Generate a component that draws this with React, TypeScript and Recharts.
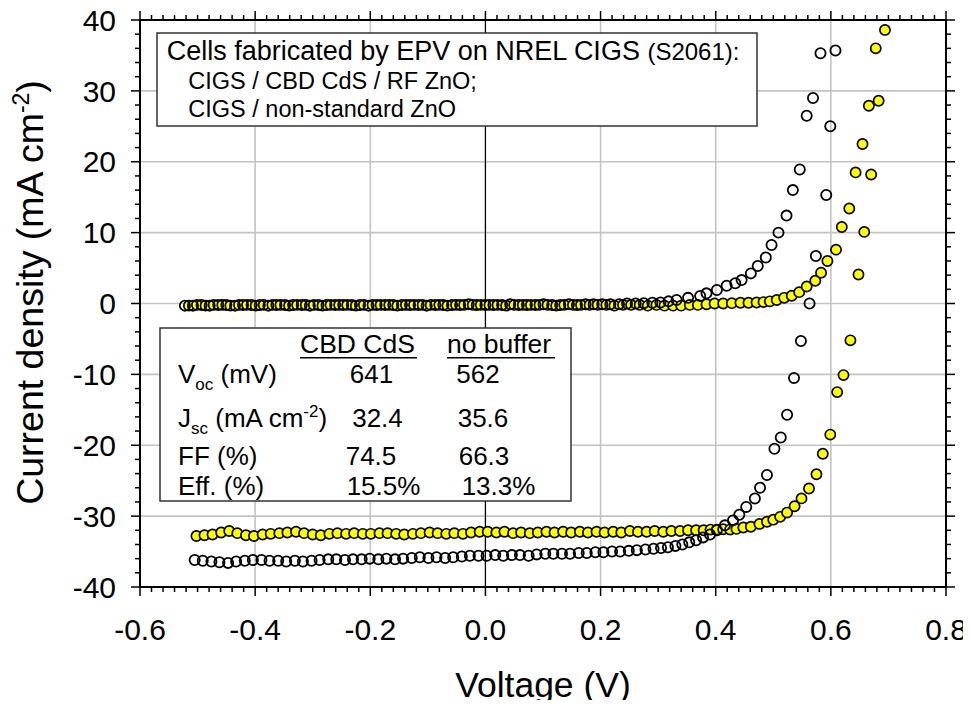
import React from 'react';
import { ScatterChart, Scatter, XAxis, YAxis, CartesianGrid, ReferenceLine } from 'recharts';

// sweep voltages (V) and current densities (mA/cm2)
const cdsDarkV = [
  -0.515, -0.501, -0.486, -0.472, -0.457, -0.443, -0.428, -0.414, -0.399, -0.385,
  -0.37, -0.356, -0.341, -0.327, -0.312, -0.298, -0.283, -0.269, -0.254, -0.24,
  -0.225, -0.211, -0.196, -0.182, -0.167, -0.153, -0.138, -0.124, -0.109, -0.095,
  -0.08, -0.066, -0.051, -0.037, -0.022, -0.008, 0.007, 0.021, 0.036, 0.05,
  0.065, 0.079, 0.094, 0.108, 0.123, 0.137, 0.152, 0.166, 0.181, 0.195,
  0.21, 0.224, 0.239, 0.253, 0.268, 0.282, 0.297, 0.311, 0.326, 0.34,
  0.355, 0.369, 0.384, 0.398, 0.413, 0.428, 0.443, 0.457, 0.471, 0.483,
  0.494, 0.506, 0.519, 0.532, 0.545, 0.558, 0.573, 0.583, 0.594, 0.609,
  0.619, 0.632, 0.643, 0.655, 0.666, 0.678, 0.694,
];
const cdsDarkJ = [
  -0.3, -0.2, -0.3, -0.2, -0.2, -0.3, -0.2, -0.2, -0.3, -0.2,
  -0.2, -0.2, -0.3, -0.2, -0.2, -0.2, -0.3, -0.2, -0.2, -0.2,
  -0.3, -0.2, -0.2, -0.2, -0.2, -0.3, -0.2, -0.2, -0.2, -0.2,
  -0.2, -0.3, -0.2, -0.2, -0.2, -0.2, -0.2, -0.2, -0.3, -0.2,
  -0.2, -0.2, -0.2, -0.2, -0.3, -0.2, -0.2, -0.2, -0.2, -0.2,
  -0.2, -0.3, -0.2, -0.2, -0.2, -0.3, -0.2, -0.3, -0.3, -0.3,
  -0.2, -0.2, -0.1, 0.0, 0.0, 0.05, 0.1, 0.1, 0.15, 0.2,
  0.3, 0.5, 0.8, 1.1, 1.6, 2.4, 3.2, 4.35, 6.0, 7.6,
  10.8, 13.4, 18.5, 22.5, 27.9, 36.0, 38.6,
];

const cdsLightV = [
  -0.502, -0.488, -0.474, -0.459, -0.445, -0.431, -0.416, -0.402, -0.387, -0.373,
  -0.358, -0.344, -0.329, -0.315, -0.3, -0.286, -0.271, -0.257, -0.242, -0.228,
  -0.213, -0.199, -0.184, -0.17, -0.155, -0.141, -0.126, -0.112, -0.097, -0.083,
  -0.068, -0.054, -0.039, -0.025, -0.01, 0.004, 0.019, 0.033, 0.048, 0.062,
  0.077, 0.091, 0.106, 0.12, 0.135, 0.149, 0.164, 0.178, 0.193, 0.207,
  0.222, 0.236, 0.251, 0.265, 0.28, 0.294, 0.309, 0.323, 0.338, 0.352,
  0.366, 0.379, 0.391, 0.402, 0.413, 0.425, 0.436, 0.448, 0.461, 0.476,
  0.489, 0.5, 0.512, 0.524, 0.537, 0.549, 0.562, 0.575, 0.586, 0.599,
  0.611, 0.622, 0.634, 0.648, 0.658, 0.67, 0.683,
];
const cdsLightJ = [
  -32.8, -32.7, -32.6, -32.3, -32.1, -32.4, -32.7, -32.8, -32.6, -32.5,
  -32.4, -32.3, -32.2, -32.4, -32.6, -32.7, -32.5, -32.4, -32.5, -32.4,
  -32.5, -32.5, -32.4, -32.4, -32.5, -32.6, -32.5, -32.4, -32.3, -32.4,
  -32.5, -32.4, -32.5, -32.3, -32.2, -32.2, -32.3, -32.2, -32.4, -32.3,
  -32.4, -32.3, -32.2, -32.3, -32.2, -32.3, -32.2, -32.3, -32.2, -32.3,
  -32.2, -32.3, -32.1, -32.2, -32.2, -32.1, -32.2, -32.1, -32.1, -32.0,
  -32.0, -32.0, -31.9, -31.9, -31.85, -31.9, -31.8, -31.6, -31.5, -31.1,
  -30.8, -30.5, -30.1, -29.5, -28.6, -27.5, -26.1, -24.1, -21.2, -18.5,
  -12.5, -10.1, -5.2, 4.1, 10.1, 18.2, 28.6,
];

const bareDarkV = [
  -0.522, -0.508, -0.493, -0.479, -0.464, -0.45, -0.435, -0.421, -0.406, -0.392,
  -0.377, -0.363, -0.348, -0.334, -0.319, -0.305, -0.29, -0.276, -0.261, -0.247,
  -0.232, -0.218, -0.203, -0.189, -0.174, -0.16, -0.145, -0.131, -0.116, -0.102,
  -0.087, -0.073, -0.058, -0.044, -0.029, -0.015, 0.0, 0.014, 0.029, 0.043,
  0.058, 0.072, 0.087, 0.101, 0.116, 0.13, 0.145, 0.159, 0.174, 0.188,
  0.203, 0.217, 0.232, 0.246, 0.261, 0.275, 0.29, 0.304, 0.318, 0.332,
  0.352, 0.373, 0.384, 0.402, 0.419, 0.434, 0.445, 0.461, 0.473, 0.487,
  0.497, 0.509, 0.523, 0.534, 0.546, 0.558, 0.569, 0.582,
];
const bareDarkJ = [
  -0.3, -0.3, -0.2, -0.3, -0.2, -0.2, -0.3, -0.2, -0.2, -0.2,
  -0.3, -0.2, -0.2, -0.2, -0.2, -0.3, -0.2, -0.2, -0.2, -0.2,
  -0.2, -0.2, -0.3, -0.2, -0.2, -0.2, -0.2, -0.2, -0.2, -0.3,
  -0.2, -0.2, -0.2, -0.2, -0.1, -0.2, -0.2, -0.2, -0.2, -0.1,
  -0.2, -0.2, -0.2, -0.1, -0.2, -0.2, -0.1, -0.2, -0.1, -0.1,
  -0.1, -0.1, -0.1, 0.0, 0.0, 0.05, 0.1, 0.15, 0.3, 0.5,
  0.8, 1.05, 1.43, 1.9, 2.5, 2.85, 3.3, 4.25, 5.3, 6.5,
  8.25, 10.0, 12.4, 16.0, 18.9, 26.5, 29.0, 35.3,
];

const bareLightV = [
  -0.505, -0.491, -0.476, -0.462, -0.447, -0.433, -0.418, -0.404, -0.389, -0.375,
  -0.36, -0.346, -0.331, -0.317, -0.302, -0.288, -0.273, -0.259, -0.244, -0.23,
  -0.215, -0.201, -0.186, -0.172, -0.157, -0.143, -0.128, -0.114, -0.099, -0.085,
  -0.07, -0.056, -0.041, -0.027, -0.012, 0.002, 0.017, 0.031, 0.046, 0.06,
  0.075, 0.089, 0.104, 0.118, 0.133, 0.147, 0.162, 0.176, 0.191, 0.205,
  0.22, 0.234, 0.249, 0.263, 0.278, 0.292, 0.305, 0.317, 0.33, 0.342,
  0.354, 0.366, 0.378, 0.39, 0.402, 0.416, 0.43, 0.441, 0.453, 0.468,
  0.477, 0.489, 0.502, 0.513, 0.524, 0.536, 0.548, 0.563, 0.574, 0.592,
  0.599, 0.608,
];
const bareLightJ = [
  -36.2, -36.3, -36.4, -36.5, -36.6, -36.4, -36.3, -36.2, -36.2, -36.3,
  -36.3, -36.4, -36.3, -36.4, -36.3, -36.2, -36.1, -36.1, -36.2, -36.1,
  -36.1, -36.0, -36.1, -36.0, -36.1, -36.0, -35.9, -35.8, -35.9, -35.8,
  -35.9, -35.8, -35.7, -35.6, -35.6, -35.6, -35.5, -35.6, -35.5, -35.5,
  -35.6, -35.4, -35.3, -35.3, -35.3, -35.3, -35.2, -35.2, -35.1, -35.1,
  -35.0, -35.0, -34.9, -34.8, -34.7, -34.6, -34.5, -34.4, -34.2, -34.0,
  -33.7, -33.4, -33.0, -32.6, -32.0, -31.3, -30.6, -29.8, -28.7, -27.5,
  -26.0, -24.2, -20.5, -18.9, -15.7, -10.5, -5.3, 0.0, 6.7, 15.3,
  25.0, 35.7,
];

const xMajorTicks = [-0.6, -0.4, -0.2, 0.0, 0.2, 0.4, 0.6, 0.8];
const yMajorTicks = [-40, -30, -20, -10, 0, 10, 20, 30, 40];
const xGridValues = [-0.4, -0.2, 0.0, 0.2, 0.4, 0.6];
const yGridValues = [-30, -20, -10, 0, 10, 20, 30];

// minor ticks: 0.02 V and 2 mA/cm2
const xAllTicks = Array.from({ length: 71 }, (_, i) => Math.round((-0.6 + i * 0.02) * 100) / 100);
const yAllTicks = Array.from({ length: 41 }, (_, i) => -40 + i * 2);

const toPoints = (vs: number[], js: number[]) => vs.map((v, i) => ({ v, j: js[i] }));

const cdsDark = toPoints(cdsDarkV, cdsDarkJ);
const cdsLight = toPoints(cdsLightV, cdsLightJ);
const bareDark = toPoints(bareDarkV, bareDarkJ);
const bareLight = toPoints(bareLightV, bareLightJ);

const W = 955;
const H = 692;
const PLOT = { left: 132, top: 12, right: 938, bottom: 579 };
const FONT = '"Liberation Sans", Arial, Helvetica, sans-serif';

const isMajor = (list: number[], v: number) => list.some((t) => Math.abs(t - v) < 1e-6);

const XTick = (props: any) => {
  const { x, payload } = props;
  const v = payload.value as number;
  const major = isMajor(xMajorTicks, v);
  const len = major ? 9 : 5;
  return (
    <g>
      <line x1={x} x2={x} y1={PLOT.bottom} y2={PLOT.bottom + len} stroke="#000" strokeWidth={1.5} />
      <line x1={x} x2={x} y1={PLOT.top} y2={PLOT.top - len} stroke="#000" strokeWidth={1.5} />
      {major && (
        <text x={x} y={PLOT.bottom + 53} textAnchor="middle" fontSize={30} fontFamily={FONT} fill="#000">
          {v.toFixed(1)}
        </text>
      )}
    </g>
  );
};

const YTick = (props: any) => {
  const { y, payload } = props;
  const v = payload.value as number;
  const major = isMajor(yMajorTicks, v);
  const len = major ? 9 : 5;
  return (
    <g>
      <line x1={PLOT.left - len} x2={PLOT.left} y1={y} y2={y} stroke="#000" strokeWidth={1.5} />
      <line x1={PLOT.right} x2={PLOT.right + len} y1={y} y2={y} stroke="#000" strokeWidth={1.5} />
      {major && (
        <text x={PLOT.left - 24} y={y} dy="0.355em" textAnchor="end" fontSize={30} fontFamily={FONT} fill="#000">
          {v}
        </text>
      )}
    </g>
  );
};

const yellowDot = (p: any) => (
  <circle cx={p.cx} cy={p.cy} r={5.1} fill="#ffff00" stroke="#000" strokeWidth={1.7} />
);
const openDot = (p: any) => (
  <circle cx={p.cx} cy={p.cy} r={5.1} fill="none" stroke="#000" strokeWidth={1.8} />
);

const txt = { fontFamily: FONT, fill: '#000' };

const Notes = () => (
  <svg width={W} height={H} style={{ position: 'absolute', left: 0, top: 0, pointerEvents: 'none' }}>
    {/* y axis title */}
    <text
      x={35}
      y={284.5}
      transform="rotate(-90, 35, 284.5)"
      textAnchor="middle"
      fontSize={37.5}
      {...txt}
    >
      Current density (mA cm
      <tspan dy={-14} fontSize={23}>-2</tspan>
      <tspan dy={14}>)</tspan>
    </text>
    <text x={535} y={689} textAnchor="middle" fontSize={35.5} {...txt}>
      Voltage (V)
    </text>

    {/* sample description */}
    <rect x={149} y={25} width={600} height={93} fill="#fff" stroke="#333" strokeWidth={1.5} />
    <text x={158.7} y={52} fontSize={27} {...txt}>
      Cells fabricated by EPV on NREL CIGS <tspan fontSize={24}>(S2061):</tspan>
    </text>
    <text x={180.3} y={81} fontSize={23.5} {...txt}>
      CIGS / CBD CdS / RF ZnO;
    </text>
    <text x={180.3} y={109} fontSize={23.5} {...txt}>
      CIGS / non-standard ZnO
    </text>

    {/* device parameters */}
    <rect x={152} y={320} width={411} height={173} fill="#fff" stroke="#333" strokeWidth={1.5} />
    <text x={292} y={344.7} fontSize={26.5} {...txt}>CBD CdS</text>
    <line x1={292} x2={409} y1={349.7} y2={349.7} stroke="#000" strokeWidth={1.5} />
    <text x={439} y={344.7} fontSize={26.5} {...txt}>no buffer</text>
    <line x1={439} x2={547} y1={349.7} y2={349.7} stroke="#000" strokeWidth={1.5} />

    <text x={170} y={375} fontSize={26} {...txt}>
      V<tspan dy={7} fontSize={17}>oc</tspan>
      <tspan dy={-7}> (mV)</tspan>
    </text>
    <text x={170} y={418.7} fontSize={26} {...txt}>
      J<tspan dy={7} fontSize={17}>sc</tspan>
      <tspan dy={-7}> (mA cm</tspan>
      <tspan dy={-10} fontSize={17}>-2</tspan>
      <tspan dy={10}>)</tspan>
    </text>
    <text x={170} y={457} fontSize={26} {...txt}>FF (%)</text>
    <text x={170} y={487} fontSize={26} {...txt}>Eff. (%)</text>

    <text x={363.5} y={375} textAnchor="middle" fontSize={26} {...txt}>641</text>
    <text x={470} y={375} textAnchor="middle" fontSize={26} {...txt}>562</text>
    <text x={369.5} y={418.7} textAnchor="middle" fontSize={26} {...txt}>32.4</text>
    <text x={475} y={418.7} textAnchor="middle" fontSize={26} {...txt}>35.6</text>
    <text x={363} y={457} textAnchor="middle" fontSize={26} {...txt}>74.5</text>
    <text x={476} y={457} textAnchor="middle" fontSize={26} {...txt}>66.3</text>
    <text x={375.5} y={487} textAnchor="middle" fontSize={26} {...txt}>15.5%</text>
    <text x={490.5} y={487} textAnchor="middle" fontSize={26} {...txt}>13.3%</text>
  </svg>
);

export default function App() {
  return (
    <div style={{ position: 'relative', width: W, height: H, background: '#fff' }}>
      <style>{'svg { overflow: visible; } .recharts-wrapper { overflow: visible; }'}</style>
      <ScatterChart width={W} height={H} margin={{ top: 12, right: 17, bottom: 53, left: 32 }}>
        <CartesianGrid
          horizontalValues={yGridValues}
          verticalValues={xGridValues}
          stroke="#c4c4c4"
          strokeWidth={1.6}
        />
        <XAxis
          type="number"
          dataKey="v"
          domain={[-0.6, 0.8]}
          allowDataOverflow
          ticks={xAllTicks}
          interval={0}
          tick={<XTick />}
          tickLine={false}
          height={60}
          axisLine={{ stroke: '#000', strokeWidth: 2 }}
        />
        <YAxis
          type="number"
          dataKey="j"
          domain={[-40, 40]}
          allowDataOverflow
          ticks={yAllTicks}
          interval={0}
          tick={<YTick />}
          tickLine={false}
          width={100}
          axisLine={{ stroke: '#000', strokeWidth: 2 }}
        />
        <ReferenceLine x={0} stroke="#000" strokeWidth={1.2} />
        <ReferenceLine y={40} stroke="#000" strokeWidth={2} />
        <ReferenceLine x={0.8} stroke="#000" strokeWidth={2} />
        <Scatter data={cdsDark} shape={yellowDot} isAnimationActive={false} />
        <Scatter data={cdsLight} shape={yellowDot} isAnimationActive={false} />
        <Scatter data={bareDark} shape={openDot} isAnimationActive={false} />
        <Scatter data={bareLight} shape={openDot} isAnimationActive={false} />
      </ScatterChart>
      <Notes />
    </div>
  );
}
